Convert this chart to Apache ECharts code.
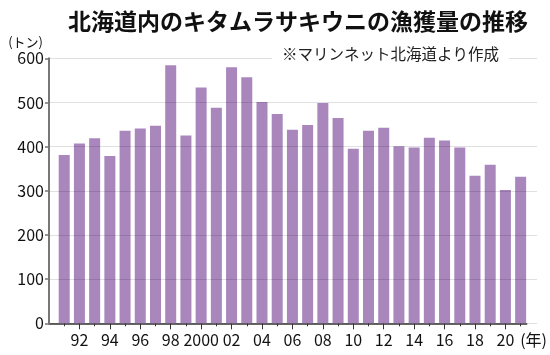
<!DOCTYPE html>
<html><head><meta charset="utf-8">
<script src="https://cdn.jsdelivr.net/npm/echarts@6/dist/echarts.min.js"></script>
<style>html,body{margin:0;padding:0;background:#fff}#c{width:550px;height:355px}</style>
</head><body><div id="c"></div>
<script>
const titleText = '北海道内のキタムラサキウニの漁獲量の推移';
const noteText = '※マリンネット北海道より作成';
const years = [1991,1992,1993,1994,1995,1996,1997,1998,1999,2000,2001,2002,2003,2004,2005,2006,2007,2008,2009,2010,2011,2012,2013,2014,2015,2016,2017,2018,2019,2020,2021];
const catch_t = [381,407,419,379,436,441,447,584,425,534,488,580,557,501,474,438,449,499,465,395,436,443,401,398,420,414,398,334,359,302,332];
const labelYears = [1992,1994,1996,1998,2000,2002,2004,2006,2008,2010,2012,2014,2016,2018,2020];
const minorYears = [1991,1993,1995,1997,1999,2001,2003,2005,2007,2009,2011,2013,2015,2017,2019,2021];
const yTicks = [0,100,200,300,400,500,600];

const FONT = '"Noto Sans CJK JP", "Noto Sans", sans-serif';
const chart = echarts.init(document.getElementById('c'), null, {renderer:'canvas'});
const fmtYear = v => v === 2000 ? '2000' : String(v % 100).padStart(2, '0');
chart.setOption({
  animation: false,
  backgroundColor: '#fff',
  title: [
    {text: titleText, left: 63, top: 5, textStyle: {fontFamily: FONT, fontSize: 23, fontWeight: 'bold', color: '#111'}},
    {text: noteText, left: 272, top: 44, padding: [2, 10, 2, 10], backgroundColor: '#fff', z: 10,
     textStyle: {fontFamily: FONT, fontSize: 15.5, fontWeight: 'normal', color: '#222'}}
  ],
  grid: [
    {left: 49, right: 23, top: 58.3, bottom: 31.7},
    {left: 49, right: 13, top: 58.3, bottom: 31.7}
  ],
  xAxis: [
    {type: 'value', gridIndex: 0, min: 1990, max: 2021.4,
     axisLine: {show: true, lineStyle: {color: '#333', width: 1.5}},
     axisTick: {show: true, length: 6, customValues: labelYears, lineStyle: {color: '#333', width: 1}},
     axisLabel: {customValues: labelYears, formatter: fmtYear, margin: 9, fontFamily: FONT, fontSize: 16, color: '#111'},
     splitLine: {show: false},
     name: '(年)', nameLocation: 'end', nameGap: -12,
     nameTextStyle: {fontFamily: FONT, fontSize: 16, color: '#111', verticalAlign: 'top', align: 'left', padding: [9, 0, 0, 0]}
    },
    {type: 'value', gridIndex: 0, min: 1990, max: 2021.4, position: 'bottom',
     axisLine: {show: false}, axisLabel: {show: false}, splitLine: {show: false},
     axisTick: {show: true, length: 3, customValues: minorYears, lineStyle: {color: '#333', width: 1}}},
    {type: 'value', gridIndex: 1, min: 0, max: 1, show: false}
  ],
  yAxis: [
    {type: 'value', gridIndex: 0, min: 0, max: 600, interval: 100, z: 4,
     axisLine: {show: true, lineStyle: {color: '#777', width: 2}},
     axisTick: {show: true, length: 4, lineStyle: {color: '#777', width: 1.5}},
     axisLabel: {margin: 5, fontFamily: FONT, fontSize: 16, color: '#111'},
     splitLine: {show: false},
     name: '(トン)', nameLocation: 'end', nameGap: 10,
     nameTextStyle: {fontFamily: FONT, fontSize: 13, color: '#111', align: 'right', padding: [0, 6, 0, 0]}
    },
    {type: 'value', gridIndex: 1, min: 0, max: 600, interval: 100, z: 3,
     axisLine: {show: false}, axisTick: {show: false}, axisLabel: {show: false},
     splitLine: {show: true, lineStyle: {color: 'rgba(0,0,0,0.12)', width: 1}}}
  ],
  series: [{
    type: 'bar', xAxisIndex: 0, yAxisIndex: 0, barWidth: 11,
    itemStyle: {color: '#a987bd'},
    data: years.map((y, i) => [y, catch_t[i]])
  }]
});
</script></body></html>
